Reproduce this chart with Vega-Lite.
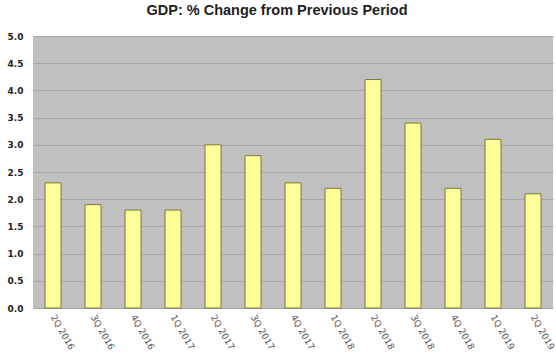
{
  "$schema": "https://vega.github.io/schema/vega-lite/v6.json",
  "width": 520,
  "height": 272,
  "autosize": "none",
  "padding": {"left": 33, "top": 36, "right": 3, "bottom": 54},
  "background": "white",
  "title": {
    "text": "GDP: % Change from Previous Period",
    "font": "Liberation Sans",
    "fontSize": 14.5,
    "fontWeight": "bold",
    "color": "#222222",
    "anchor": "middle",
    "dx": -16,
    "offset": 14
  },
  "config": {
    "view": {"fill": "#c0c0c0", "stroke": null}
  },
  "data": {
    "values": [
      {"q": "2Q 2016", "v": 2.3},
      {"q": "3Q 2016", "v": 1.9},
      {"q": "4Q 2016", "v": 1.8},
      {"q": "1Q 2017", "v": 1.8},
      {"q": "2Q 2017", "v": 3.0},
      {"q": "3Q 2017", "v": 2.8},
      {"q": "4Q 2017", "v": 2.3},
      {"q": "1Q 2018", "v": 2.2},
      {"q": "2Q 2018", "v": 4.2},
      {"q": "3Q 2018", "v": 3.4},
      {"q": "4Q 2018", "v": 2.2},
      {"q": "1Q 2019", "v": 3.1},
      {"q": "2Q 2019", "v": 2.1}
    ]
  },
  "mark": {"type": "bar", "fill": "#ffff99", "stroke": "#7a7a3a", "strokeWidth": 1},
  "encoding": {
    "x": {
      "field": "q",
      "type": "nominal",
      "sort": null,
      "scale": {"paddingInner": 0.6, "paddingOuter": 0.3},
      "axis": {
        "title": null,
        "labelAngle": 60,
        "labelAlign": "left",
        "labelBaseline": "middle",
        "labelFont": "DejaVu Sans",
        "labelFontSize": 9,
        "labelColor": "#555555",
        "labelPadding": 7,
        "ticks": false,
        "domain": false,
        "grid": false
      }
    },
    "y": {
      "field": "v",
      "type": "quantitative",
      "scale": {"domain": [0, 5]},
      "axis": {
        "title": null,
        "values": [0, 0.5, 1, 1.5, 2, 2.5, 3, 3.5, 4, 4.5, 5],
        "format": ".1f",
        "labelFont": "DejaVu Sans",
        "labelFontSize": 9,
        "labelFontWeight": "bold",
        "labelColor": "#222222",
        "labelPadding": 10,
        "ticks": false,
        "domain": false,
        "grid": true,
        "gridColor": "#a6a6a6",
        "gridWidth": 1
      }
    }
  }
}
